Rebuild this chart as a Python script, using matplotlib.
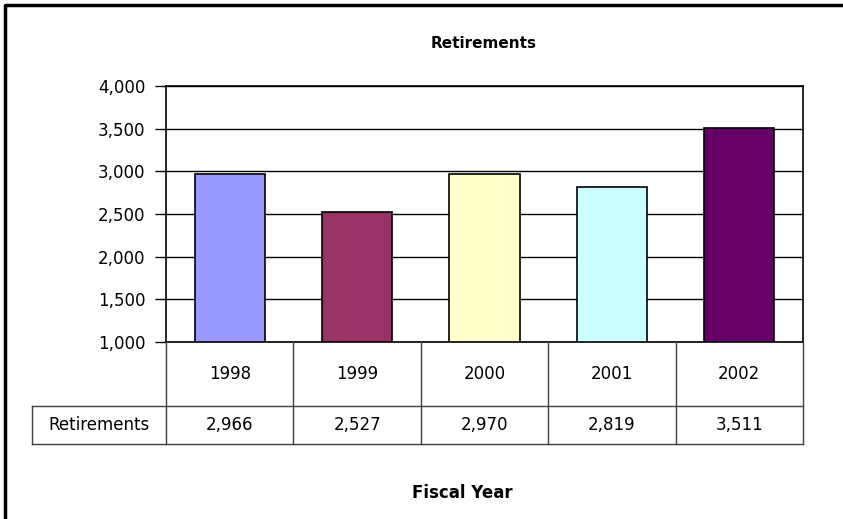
import matplotlib.pyplot as plt
from matplotlib.lines import Line2D
from matplotlib.ticker import FuncFormatter

years = ['1998', '1999', '2000', '2001', '2002']
retirements = [2966, 2527, 2970, 2819, 3511]
bar_colors = ['#9999FF', '#993366', '#FFFFCC', '#CCFFFF', '#660066']

plt.rcParams['font.family'] = ['DejaVu Sans']

W, H = 843, 519
fig = plt.figure(figsize=(W / 100, H / 100), dpi=100)

# pixel helpers (top-left origin)
def fx(px):
    return px / W

def fy(py):
    return 1 - py / H

left, right, top, bottom = 166, 803, 86, 342
ax = fig.add_axes([fx(left), fy(bottom), fx(right - left), (bottom - top) / H])

xpos = [i + 0.5 for i in range(len(years))]
ax.bar(xpos, [v - 1000 for v in retirements], bottom=1000, width=0.55,
       color=bar_colors, edgecolor='black', linewidth=1.2, zorder=3)
ax.set_xlim(0, len(years))
ax.set_ylim(1000, 4000)
ax.set_yticks(range(1000, 4001, 500))
ax.yaxis.set_major_formatter(FuncFormatter(lambda v, p: f'{int(v):,}'))
ax.tick_params(axis='y', labelsize=12, length=8, width=1, pad=7)
ax.set_xticks([])
ax.grid(axis='y', color='black', linewidth=1, zorder=0)
for s in ax.spines.values():
    s.set_linewidth(1.2)
    s.set_color('black')

# data table below the plot
row1, row2 = 406, 444
label_left = 32
col_edges = [left + (right - left) * i / len(years) for i in range(len(years) + 1)]
lc = '#404040'
lines = [
    ((label_left, right), (row1, row1)),
    ((label_left, right), (row2, row2)),
    ((label_left, label_left), (row1, row2)),
]
for xe in col_edges:
    lines.append(((xe, xe), (bottom, row2)))
for xs, ys in lines:
    fig.add_artist(Line2D([fx(x) for x in xs], [fy(y) for y in ys],
                          color=lc, linewidth=1))

for i, (yr, v) in enumerate(zip(years, retirements)):
    cx = (col_edges[i] + col_edges[i + 1]) / 2
    fig.text(fx(cx), fy((bottom + row1) / 2), yr, ha='center', va='center', fontsize=12)
    fig.text(fx(cx), fy((row1 + row2) / 2), f'{v:,}', ha='center', va='center', fontsize=12)
fig.text(fx((label_left + left) / 2), fy((row1 + row2) / 2), 'Retirements',
         ha='center', va='center', fontsize=12)

fig.text(fx(484), fy(43), 'Retirements', ha='center', va='center', fontsize=11, fontweight='bold')
fig.text(fx(462), fy(493), 'Fiscal Year', ha='center', va='center', fontsize=12, fontweight='bold')

# outer chart frame (left and top edges visible)
fig.add_artist(Line2D([fx(5), fx(5), fx(W)], [fy(H), fy(5), fy(5)], color='black', linewidth=2.5))

fig.savefig('out.png', dpi=100)
